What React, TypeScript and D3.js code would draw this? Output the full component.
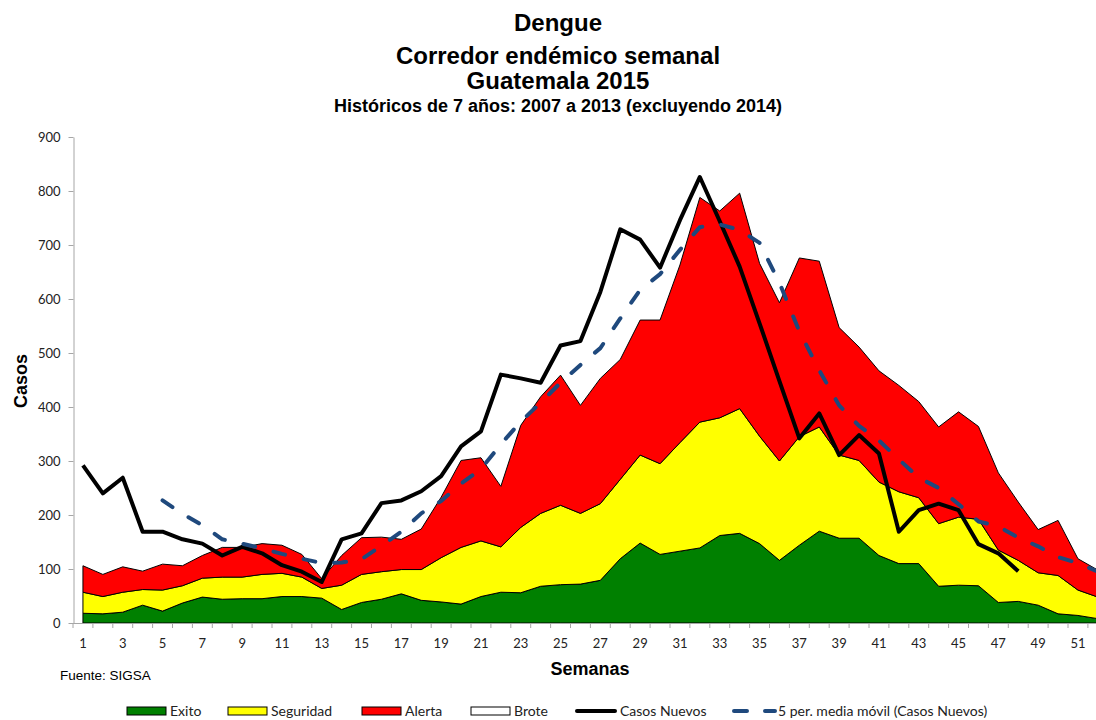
import React, { useEffect, useRef } from 'react';
import * as d3 from 'd3';

// semanas epidemiológicas
const weeks = d3.range(1, 53);

// bandas del corredor (espesor de cada franja apilada)
const exito = [18, 17, 20, 33, 22, 37, 48, 44, 45, 45, 49, 49, 46, 25, 38, 44, 54, 42, 39, 35, 49, 57, 56, 68, 71, 72,
  79, 119, 148, 127, 133, 139, 162, 166, 147, 116, 144, 170, 157, 157, 125, 110, 110, 68, 70, 69, 38, 40, 33, 17, 14, 8];
const seguridad = [39, 32, 37, 29, 39, 32, 35, 41, 40, 45, 43, 36, 18, 45, 52, 51, 45, 57, 82, 105, 103, 84, 121, 135, 147, 131,
  142, 147, 163, 168, 201, 233, 218, 231, 199, 184, 201, 193, 154, 144, 136, 133, 122, 116, 126, 123, 97, 76, 60, 71, 47, 40];
const alerta = [49, 41, 47, 34, 48, 37, 42, 55, 55, 57, 52, 42, 18, 55, 68, 64, 56, 75, 112, 161, 154, 112, 189, 216, 241, 200,
  232, 222, 250, 266, 329, 416, 383, 399, 320, 293, 331, 307, 236, 210, 206, 197, 178, 179, 195, 172, 143, 108, 80, 102, 58, 50];

// casos nuevos 2015, semanas 1 a 48
const casosNuevos = [292, 240, 269, 169, 169, 155, 147, 125, 141, 129, 107, 95, 76, 155, 166, 222, 227, 244, 272, 327, 355, 460,
  453, 445, 514, 522, 613, 729, 710, 658, 746, 826, 744, 660, 555, 448, 342, 388, 311, 348, 314, 169, 209, 221, 209, 146, 129, 96];

// media móvil de 5 periodos, semanas 5 a 52
const mediaMovil = [227, 202, 181, 155, 147, 138, 128, 119, 111, 112, 118, 143, 169, 203, 226, 258, 285, 331, 373, 408, 445, 478,
  509, 564, 617, 646, 691, 733, 738, 728, 704, 630, 540, 468, 403, 365, 338, 303, 269, 250, 220, 188, 179, 158, 142, 122, 111, 95];

const yTicks = [0, 100, 200, 300, 400, 500, 600, 700, 800, 900];
const xLabels = weeks.filter(w => w % 2 === 1);

const bandNames = ['Exito', 'Seguridad', 'Alerta', 'Brote'];
const bandColors = ['#008000', '#ffff00', '#ff0000', '#ffffff'];

const W = 1096;
const H = 720;
const left = 73;
const top = 137;
const bottom = 623;
const bandW = 19.9;

const axisColor = '#a6a6a6';
const tickFont = 'Lato, "Open Sans", sans-serif';
const titleFont = '"Liberation Sans", Arial, sans-serif';

export default function App() {
  const yAxisRef = useRef<SVGGElement>(null);

  const x = d3.scaleBand<number>().domain(weeks).range([left, left + bandW * weeks.length]);
  const cx = (w: number) => (x(w) ?? 0) + x.bandwidth() / 2;
  const y = d3.scaleLinear().domain([0, 900]).range([bottom, top]);

  const rows = weeks.map((w, i) => ({ week: w, exito: exito[i], seguridad: seguridad[i], alerta: alerta[i] }));
  const series = d3.stack<any>().keys(['exito', 'seguridad', 'alerta'])(rows);
  const area = d3.area<any>()
    .x(d => cx(d.data.week))
    .y0(d => y(d[0]))
    .y1(d => y(d[1]));

  const casosLine = d3.line<number>().x((d, i) => cx(i + 1)).y(d => y(d));
  const mediaLine = d3.line<number>().x((d, i) => cx(i + 5)).y(d => y(d));

  useEffect(() => {
    const g = d3.select(yAxisRef.current);
    g.call(d3.axisLeft(y).tickValues(yTicks).tickSize(5).tickSizeOuter(0).tickPadding(8) as any);
    g.select('.domain').attr('stroke', axisColor);
    g.selectAll('.tick line').attr('stroke', axisColor);
    g.selectAll('.tick text')
      .attr('font-family', tickFont)
      .attr('font-size', 13)
      .attr('fill', '#222');
  }, []);

  const boundaries = [...weeks.map(w => x(w) ?? 0), left + bandW * weeks.length];

  return (
    <svg width={W} height={H} style={{ position: 'absolute', left: 0, top: 0, background: '#fff' }}>
      <g fontFamily={titleFont} fontWeight="bold" textAnchor="middle" fill="#000">
        <text x={558} y={31} fontSize={24}>Dengue</text>
        <text x={558} y={64} fontSize={24}>Corredor endémico semanal</text>
        <text x={558} y={89} fontSize={24}>Guatemala 2015</text>
        <text x={558} y={112} fontSize={18}>Históricos de 7 años: 2007 a 2013 (excluyendo 2014)</text>
      </g>

      {series.map((s, i) => (
        <path key={s.key} d={area(s) ?? ''} fill={bandColors[i]} stroke="#000" strokeWidth={1} strokeLinejoin="round" />
      ))}

      <line x1={left} x2={W} y1={bottom + 0.5} y2={bottom + 0.5} stroke={axisColor} />
      {boundaries.map((bx, i) => (
        <line key={i} x1={bx} x2={bx} y1={bottom} y2={bottom + 5} stroke={axisColor} />
      ))}
      <g fontFamily={tickFont} fontSize={13} fill="#222" textAnchor="middle">
        {xLabels.map(w => (
          <text key={w} x={cx(w)} y={648}>{w}</text>
        ))}
      </g>
      <g ref={yAxisRef} transform={`translate(${left + 0.5},0)`} />

      <path d={casosLine(casosNuevos) ?? ''} fill="none" stroke="#000" strokeWidth={4} strokeLinejoin="round" />
      <path d={mediaLine(mediaMovil) ?? ''} fill="none" stroke="#1f497d" strokeWidth={4}
        strokeDasharray="12,19" strokeLinecap="round" strokeLinejoin="round" />

      <text fontFamily={titleFont} fontWeight="bold" fontSize={18} textAnchor="middle"
        transform="translate(27,381) rotate(-90)">Casos</text>
      <text x={590} y={675} fontFamily={titleFont} fontWeight="bold" fontSize={18} textAnchor="middle">Semanas</text>
      <text x={60} y={680} fontFamily={titleFont} fontSize={13.5}>Fuente:  SIGSA</text>

      <g fontFamily={tickFont} fontSize={14} fill="#222">
        {bandNames.map((name, i) => {
          const lx = [127, 228, 362, 471][i];
          return (
            <g key={name}>
              <rect x={lx} y={707} width={39} height={8} fill={bandColors[i]} stroke="#000" strokeWidth={1} />
              <text x={lx + 43} y={716}>{name}</text>
            </g>
          );
        })}
        <line x1={577} x2={615} y1={711} y2={711} stroke="#000" strokeWidth={4} strokeLinecap="round" />
        <text x={620} y={716}>Casos Nuevos</text>
        <line x1={734} x2={775} y1={711} y2={711} stroke="#1f497d" strokeWidth={4}
          strokeDasharray="13,18" strokeLinecap="round" />
        <text x={778} y={716}>5 per. media móvil (Casos Nuevos)</text>
      </g>
    </svg>
  );
}
